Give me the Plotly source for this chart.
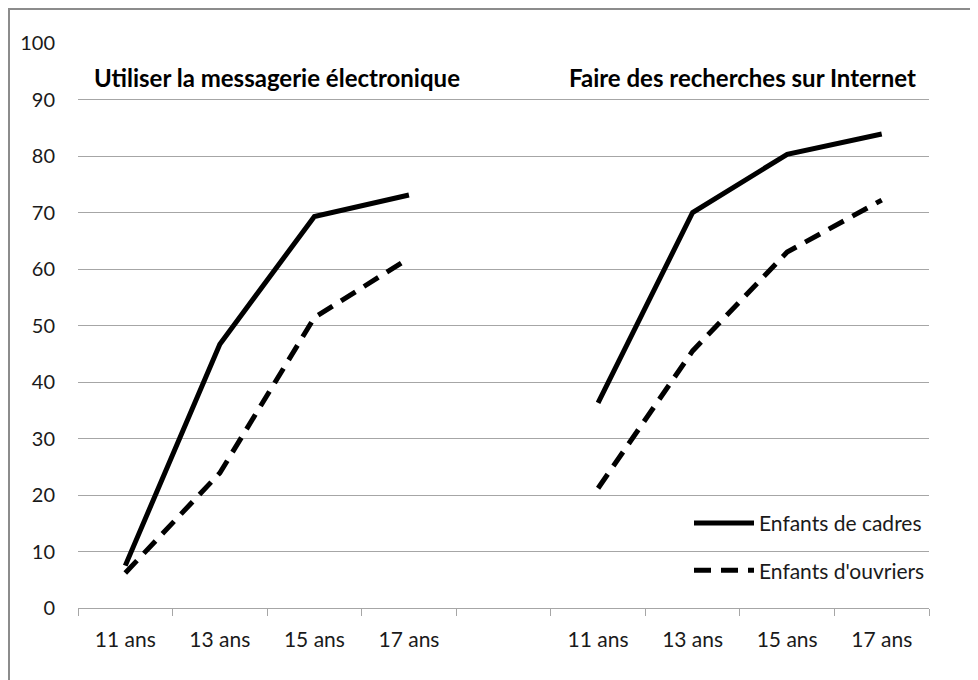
import plotly.graph_objects as go

categories = ["11 ans", "13 ans", "15 ans", "17 ans"]
panel_titles = ["Utiliser la messagerie électronique", "Faire des recherches sur Internet"]
series_names = ["Enfants de cadres", "Enfants d'ouvriers"]

cadres_email = [7.5, 46.7, 69.3, 73.1]
ouvriers_email = [6.2, 23.9, 51.4, 61.9]
cadres_internet = [36.3, 70.0, 80.3, 83.9]
ouvriers_internet = [21.2, 45.5, 63.0, 72.2]

y_ticks = list(range(0, 101, 10))

n = len(categories)
gap = 1  # empty category between the two panels
left_x = list(range(n))
right_x = [i + n + gap for i in range(n)]
all_x = left_x + right_x
all_labels = categories + categories
total = 2 * n + gap

FONT = "Lato"
TXT = "#1a1a1a"

# page offset (body margin) = 8px
W, H = 970, 672
ML, MR, MT, MB = 70, 49, 35, 72
pw = W - ML - MR
ph = H - MT - MB

fig = go.Figure()

fig.add_trace(go.Scatter(
    x=left_x + [None] + right_x,
    y=cadres_email + [None] + cadres_internet,
    mode="lines", name=series_names[0], legendgroup="a",
    line=dict(color="black", width=5),
    connectgaps=False,
))
fig.add_trace(go.Scatter(
    x=left_x + [None] + right_x,
    y=ouvriers_email + [None] + ouvriers_internet,
    mode="lines", name=series_names[1], legendgroup="b",
    line=dict(color="black", width=5, dash="17px,10px"),
    connectgaps=False,
))

fig.update_layout(
    width=W, height=H,
    margin=dict(l=ML, r=MR, t=MT, b=MB),
    paper_bgcolor="white", plot_bgcolor="white",
    font=dict(family=FONT, size=20, color=TXT),
    showlegend=True,
    legend=dict(
        x=(689 - 8 - ML) / pw, y=0.186, xanchor="left", yanchor="top",
        bgcolor="rgba(0,0,0,0)", font=dict(family=FONT, size=21, color=TXT),
        itemwidth=60, tracegroupgap=17, traceorder="grouped",
    ),
    xaxis=dict(
        range=[-0.5, total - 0.5],
        tickvals=all_x, ticktext=all_labels,
        ticks="", showgrid=False, zeroline=False,
        showline=True, linecolor="#a6a6a6", linewidth=1,
        tickfont=dict(family=FONT, size=21, color=TXT),
        ticklabelstandoff=13,
        minor=dict(
            tickvals=[i - 0.5 for i in range(total + 1)],
            ticks="outside", ticklen=7, tickcolor="#a6a6a6", tickwidth=1,
            showgrid=False,
        ),
        fixedrange=True,
    ),
    yaxis=dict(
        range=[0, 100], tickvals=y_ticks,
        showgrid=True, gridcolor="#a6a6a6", gridwidth=1,
        zeroline=False, showline=False, ticks="",
        tickfont=dict(family=FONT, size=20, color=TXT),
        ticklabelstandoff=22,
        fixedrange=True,
    ),
)

# Panel titles
fig.add_annotation(x=(92 - 8 - ML) / pw, y=(608 - 77) / ph, xref="paper", yref="paper",
                   text="<b>" + panel_titles[0] + "</b>", showarrow=False,
                   xanchor="left", yanchor="middle",
                   font=dict(family=FONT, size=24, color="black"))
fig.add_annotation(x=(918 - 8 - ML) / pw, y=(608 - 77) / ph, xref="paper", yref="paper",
                   text="<b>" + panel_titles[1] + "</b>", showarrow=False,
                   xanchor="right", yanchor="middle",
                   font=dict(family=FONT, size=24, color="black"))

# Chart frame (partly outside the visible window, like the reference)
fig.add_shape(type="rect", xref="paper", yref="paper",
              x0=(9 - 78) / pw, x1=(1000 - 78) / pw,
              y0=(608 - 720) / ph, y1=(608 - 9) / ph,
              line=dict(color="#8c8c8c", width=2), fillcolor="rgba(0,0,0,0)",
              layer="below")

fig.write_html("out.html")
